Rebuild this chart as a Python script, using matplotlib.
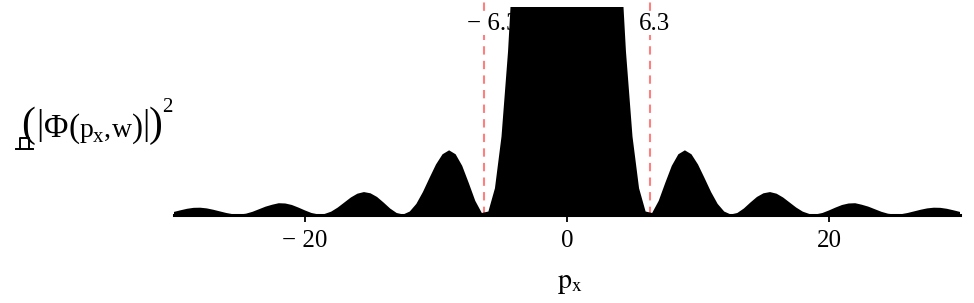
import numpy as np
import matplotlib
matplotlib.use('Agg')
import matplotlib.pyplot as plt
from matplotlib.lines import Line2D

# momentum grid and |Phi|^2 (normalised to the central peak)
px = np.arange(-30, 30.5, 0.5)

heights_left = [0.0019, 0.0031, 0.0042, 0.0049, 0.0050, 0.0045, 0.0035, 0.0023, 0.0011, 0.0002,
                0.0000, 0.0006, 0.0020, 0.0039, 0.0058, 0.0072, 0.0083, 0.0081, 0.0070, 0.0051,
                0.0030, 0.0011, 0.0001, 0.0004, 0.0021, 0.0051, 0.0088, 0.0125, 0.0153, 0.0165,
                0.0156, 0.0129, 0.0088, 0.0044, 0.0011, 0.0000, 0.0022, 0.0078, 0.0165, 0.0268,
                0.0368, 0.0443, 0.0472, 0.0443, 0.0358, 0.0232, 0.0100, 0.0011, 0.0022, 0.0193,
                0.0573, 0.120, 0.207, 0.316, 0.442, 0.576, 0.708, 0.826, 0.919, 0.979]
heights_centre = [1.0]
heights_right = [0.979, 0.919, 0.826, 0.708, 0.576, 0.442, 0.316, 0.207, 0.120, 0.0573,
                 0.0193, 0.0022, 0.0011, 0.0100, 0.0232, 0.0358, 0.0443, 0.0472, 0.0443, 0.0368,
                 0.0268, 0.0165, 0.0078, 0.0022, 0.0000, 0.0011, 0.0044, 0.0088, 0.0129, 0.0156,
                 0.0165, 0.0153, 0.0125, 0.0088, 0.0051, 0.0021, 0.0004, 0.0001, 0.0011, 0.0030,
                 0.0051, 0.0070, 0.0081, 0.0083, 0.0072, 0.0058, 0.0039, 0.0020, 0.0006, 0.0000,
                 0.0002, 0.0011, 0.0023, 0.0035, 0.0045, 0.0050, 0.0049, 0.0042, 0.0031, 0.0019]
heights = heights_left + heights_centre + heights_right

markers = [-6.3, 6.3]
marker_labels = ['\u2212 6.3', '6.3']
xticks = [-20, 0, 20]
xtick_labels = ['\u2212 20', '0', '20']

plt.rcParams['font.family'] = ['Liberation Serif', 'DejaVu Serif']
plt.rcParams['mathtext.fontset'] = 'stix'

W, H = 974, 303
fig = plt.figure(figsize=(W / 100, H / 100), dpi=100)
ax = fig.add_axes([174 / W, 1 - 214.5 / H, (960 - 174) / W, (214.5 - 6.5) / H])

ax.fill_between(px, heights, color='black', lw=0, zorder=3)

for m in markers:
    ax.axvline(m, ymin=0, ymax=1.04, color='#ff7f7f', lw=1.5,
               linestyle=(0, (4, 3)), clip_on=False, zorder=1)

ax.text(-7.65, 0.153 * 0.915, marker_labels[0], fontsize=18, ha='left', va='center',
        zorder=2, bbox=dict(facecolor='white', edgecolor='none', pad=0))
ax.text(5.5, 0.153 * 0.915, marker_labels[1], fontsize=18, ha='left', va='center',
        zorder=2, bbox=dict(facecolor='white', edgecolor='none', pad=0))

ax.set_xlim(-30, 30)
ax.set_ylim(0, 0.153)

for side in ['top', 'left', 'right']:
    ax.spines[side].set_visible(False)
ax.spines['bottom'].set_linewidth(2.2)
ax.spines['bottom'].set_zorder(4)

ax.set_xticks(xticks)
ax.set_xticklabels(xtick_labels)
ax.set_yticks([])
ax.tick_params(axis='x', direction='out', length=5, width=1.3, pad=6, labelsize=18)

fig.text(570 / W, 1 - 283 / H, r'$\mathrm{p_x}$', fontsize=20, ha='center', va='center')

# y label, set piece by piece like the mathcad expression
ylabel_parts = [
    ('(', 21, 136, 30), ('|', 36, 134, 26), ('\u03a6', 44, 137, 24), ('(', 68, 137, 24),
    ('p', 80, 137, 20), ('x', 93, 142, 15), (',', 104, 137, 20), ('w', 112, 137, 20),
    (')', 132, 137, 24), ('|', 142, 134, 26), (')', 149, 136, 30), ('2', 162, 112, 15),
]
for s, x, y, size in ylabel_parts:
    fig.text(x / W, 1 - y / H, s, fontsize=size, ha='left', va='baseline')


# mathcad placeholder mark under the y label
def px_line(xs, ys):
    fig.add_artist(Line2D([x / W for x in xs], [1 - y / H for y in ys],
                          color='black', lw=1.4, transform=fig.transFigure))


px_line([16, 33], [149.5, 149.5])
px_line([20, 20, 29, 29], [149, 138, 138, 149])

fig.savefig('out.png', dpi=100)
